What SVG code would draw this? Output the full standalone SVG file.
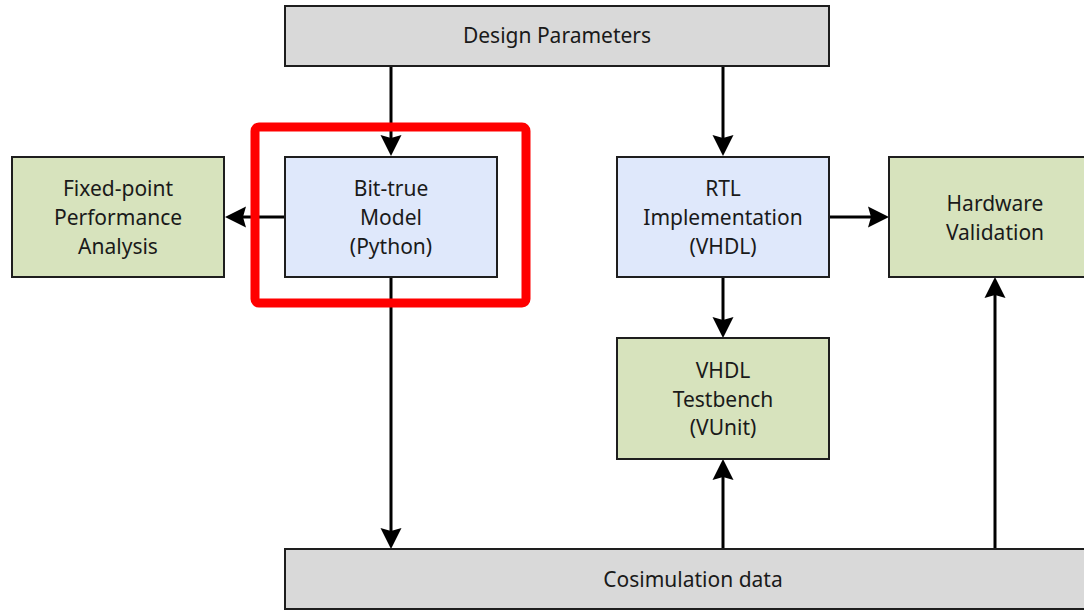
<svg xmlns="http://www.w3.org/2000/svg" width="1084" height="610" viewBox="0 0 1084 610">
  <style>
    .box { stroke: #1e1e1e; stroke-width: 2; }
    .gray { fill: #d9d9d9; }
    .blue { fill: #dfe8fb; }
    .green { fill: #d7e3bd; }
    .lbl { font-family: "Noto Sans", "Open Sans", "Liberation Sans", sans-serif; font-size: 21px; fill: #1a1a1a; text-anchor: middle; }
    .conn { stroke: #000; stroke-width: 3; fill: none; marker-end: url(#arrow); }
  </style>
  <defs>
    <marker id="arrow" markerUnits="userSpaceOnUse" viewBox="-12 -12 24 24" markerWidth="24" markerHeight="24" refX="0" refY="0" orient="auto">
      <path d="M10,0 L-11,-10.5 L-8,0 L-11,10.5 Z" fill="#000"/>
    </marker>
  </defs>

  <rect width="1084" height="610" fill="#fff"/>

  <!-- connectors -->
  <g id="connectors">
    <line class="conn" x1="391" y1="66" x2="391" y2="146"/>
    <line class="conn" x1="723" y1="66" x2="723" y2="146"/>
    <line class="conn" x1="285" y1="217" x2="235" y2="217"/>
    <line class="conn" x1="391" y1="277" x2="391" y2="539"/>
    <line class="conn" x1="829" y1="217" x2="879" y2="217"/>
    <line class="conn" x1="723" y1="277" x2="723" y2="328"/>
    <line class="conn" x1="723" y1="549" x2="723" y2="469"/>
    <line class="conn" x1="995" y1="549" x2="995" y2="287"/>
  </g>

  <g id="design-parameters">
    <rect class="box gray" x="285" y="6" width="544" height="60"/>
    <text class="lbl" x="557" y="43">Design Parameters</text>
  </g>

  <g id="fixed-point-analysis">
    <rect class="box green" x="12" y="157" width="212" height="120"/>
    <text class="lbl" x="118" y="196">Fixed-point</text>
    <text class="lbl" x="118" y="225">Performance</text>
    <text class="lbl" x="118" y="254">Analysis</text>
  </g>

  <g id="bit-true-model">
    <rect class="box blue" x="285" y="157" width="212" height="120"/>
    <text class="lbl" x="391" y="196">Bit-true</text>
    <text class="lbl" x="391" y="225">Model</text>
    <text class="lbl" x="391" y="254">(Python)</text>
  </g>

  <g id="rtl-implementation">
    <rect class="box blue" x="617" y="157" width="212" height="120"/>
    <text class="lbl" x="723" y="196">RTL</text>
    <text class="lbl" x="723" y="225">Implementation</text>
    <text class="lbl" x="723" y="254">(VHDL)</text>
  </g>

  <g id="hardware-validation">
    <rect class="box green" x="889" y="157" width="212" height="120"/>
    <text class="lbl" x="995" y="211">Hardware</text>
    <text class="lbl" x="995" y="240">Validation</text>
  </g>

  <g id="vhdl-testbench">
    <rect class="box green" x="617" y="338" width="212" height="121"/>
    <text class="lbl" x="723" y="378">VHDL</text>
    <text class="lbl" x="723" y="407">Testbench</text>
    <text class="lbl" x="723" y="435">(VUnit)</text>
  </g>

  <g id="cosimulation-data">
    <rect class="box gray" x="285" y="549" width="816" height="60"/>
    <text class="lbl" x="693" y="587">Cosimulation data</text>
  </g>

  <!-- highlight frame around the bit-true model -->
  <g id="highlight">
    <rect x="255" y="127" width="271" height="176" rx="4" fill="none" stroke="#ff0000" stroke-width="9"/>
  </g>
</svg>
